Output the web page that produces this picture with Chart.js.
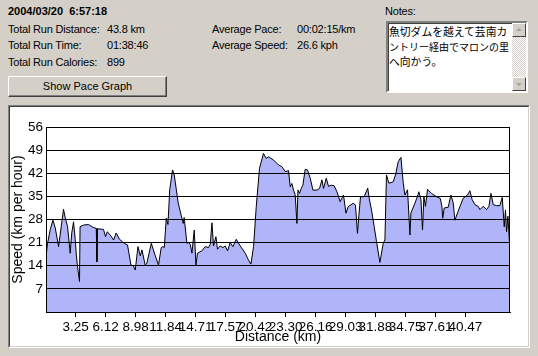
<!DOCTYPE html>
<html><head><meta charset="utf-8">
<script src="https://cdn.jsdelivr.net/npm/chart.js@4.4.1/dist/chart.umd.min.js"></script>
<style>
body{margin:0;width:538px;height:356px;background:#d4d0c8;position:relative;overflow:hidden;font-family:'Liberation Sans',Arial,sans-serif;font-size:11px;color:#000}
.t{position:absolute;line-height:13px;white-space:nowrap;letter-spacing:-0.2px}
.btn{position:absolute;left:8px;top:76px;width:157px;height:19px;border:1px solid;border-color:#fff #404040 #404040 #fff;box-shadow:inset -1px -1px #808080;text-align:center;line-height:19px}
.notes{position:absolute;left:386px;top:21px;width:138px;height:68px;background:#fff;border:2px solid;border-color:#808080 #fff #fff #808080;box-shadow:inset 1px 1px #404040}
.ntext{position:absolute;left:1px;top:1px;font-family:'Noto Sans CJK JP',sans-serif;font-size:10.8px;line-height:14.5px;white-space:nowrap}
.sb{position:absolute;right:0;top:0;width:14px;height:68px;background:repeating-conic-gradient(#d4d0c8 0 25%,#fff 0 50%) 0 0/2px 2px}
.sbb{position:absolute;left:0;width:12px;height:12px;background:#d4d0c8;border:1px solid;border-color:#fff #404040 #404040 #fff}
.tri{position:absolute;left:3px;width:0;height:0;border-left:3px solid transparent;border-right:3px solid transparent}
.panel{position:absolute;left:8px;top:105px;width:520px;height:241px;border:1px solid;border-color:#808080 #fff #fff #808080}
.inner{position:absolute;left:0;top:0;width:518px;height:239px;border:1px solid;border-color:#404040 #d4d0c8 #d4d0c8 #404040;background:#fff}
canvas{position:absolute;left:0;top:0}
</style></head>
<body>
<div class="t" style="left:8px;top:5px;font-weight:bold;letter-spacing:0">2004/03/20&nbsp;&nbsp;6:57:18</div>
<div class="t" style="left:8px;top:23px">Total Run Distance:</div>
<div class="t" style="left:107px;top:23px">43.8 km</div>
<div class="t" style="left:8px;top:39px">Total Run Time:</div>
<div class="t" style="left:107px;top:39px">01:38:46</div>
<div class="t" style="left:8px;top:56px">Total Run Calories:</div>
<div class="t" style="left:107px;top:56px">899</div>
<div class="t" style="left:212px;top:23px">Average Pace:</div>
<div class="t" style="left:297px;top:23px">00:02:15/km</div>
<div class="t" style="left:212px;top:39px">Average Speed:</div>
<div class="t" style="left:297px;top:39px">26.6 kph</div>
<div class="t" style="left:385px;top:5px">Notes:</div>
<div class="btn">Show Pace Graph</div>
<div class="notes">
  <div class="ntext"><span>魚切ダムを越えて芸南カ</span><br><span style="font-size:10px">ントリー経由でマロンの里</span><br><span>へ向かう。</span></div>
  <div class="sb">
    <div class="sbb" style="top:0"><div class="tri" style="top:4px;border-bottom:3px solid #a0a0a0"></div></div>
    <div class="sbb" style="bottom:0"><div class="tri" style="top:5px;border-top:3px solid #a0a0a0"></div></div>
  </div>
</div>
<div class="panel"><div class="inner"><canvas id="c" width="518" height="239"></canvas></div></div>
<script>
const distKm = [0.43,0.58,0.84,1.09,1.31,1.63,1.89,2.10,2.27,2.49,2.74,2.89,3.06,3.22,3.32,3.44,3.63,3.68,3.99,4.49,4.94,5.23,5.29,5.35,5.92,6.11,6.28,6.56,6.88,7.13,7.45,7.71,7.90,8.21,8.54,8.76,8.95,9.21,9.43,9.59,9.90,10.06,10.48,10.81,11.17,11.43,11.59,11.72,11.91,12.07,12.24,12.51,12.67,13.05,13.40,13.53,13.62,13.88,14.01,14.20,14.36,14.58,14.74,14.89,15.31,15.63,15.94,16.11,16.27,16.42,16.65,16.80,17.06,17.32,17.54,17.76,18.01,18.27,18.59,18.97,19.45,19.76,19.99,20.24,20.50,20.81,21.19,21.45,21.67,22.15,22.62,22.95,23.26,23.58,23.74,23.90,24.06,24.22,24.38,24.48,24.63,24.79,24.95,25.17,25.39,25.65,25.91,26.29,26.54,26.77,26.92,27.18,27.40,27.63,27.94,28.20,28.51,28.83,29.06,29.28,29.75,29.97,30.16,30.30,30.45,30.80,31.14,31.28,31.50,31.76,31.98,32.30,32.62,32.78,32.93,33.16,33.57,33.79,34.05,34.31,34.53,34.69,34.94,35.17,35.26,35.64,35.89,36.02,36.22,36.37,36.50,36.65,36.85,37.23,37.70,38.06,38.22,38.30,38.44,38.82,39.08,39.30,39.46,39.71,39.94,40.25,40.66,40.89,41.11,41.37,41.68,41.85,42.16,42.48,42.71,42.90,43.12,43.43,43.76,43.98,44.17,44.29,44.39,44.52,44.72];
const speedKph = [16.7,20.8,25.0,27.8,25.5,19.8,26.0,31.1,28.5,25.8,17.8,24.0,27.3,22.0,17.5,13.7,9.2,25.8,26.3,26.5,25.6,25.3,15.2,25.2,25.0,22.8,24.3,23.3,21.8,23.9,22.0,21.3,20.8,20.3,14.2,14.0,12.7,19.8,17.0,18.8,14.2,14.8,20.8,17.5,14.2,19.5,19.8,19.5,28.4,26.5,37.0,43.0,41.5,33.0,28.4,26.8,28.6,20.8,21.0,20.5,17.8,24.8,14.2,17.8,18.5,19.8,19.5,20.5,27.0,20.0,22.8,19.0,20.0,19.5,20.0,18.5,21.0,19.8,22.0,20.0,17.8,15.7,14.5,19.8,31.9,43.5,48.0,46.5,47.0,46.0,44.5,44.0,42.5,42.8,37.9,38.9,36.9,35.4,26.8,36.9,35.9,37.4,38.4,43.2,43.0,40.5,36.9,36.9,37.4,40.0,37.4,40.5,38.0,38.4,38.2,36.4,33.4,35.4,29.9,31.9,32.9,32.4,23.8,29.4,34.9,34.9,37.5,34.4,30.9,25.8,21.3,15.0,20.8,21.8,41.5,39.0,39.4,41.5,45.5,46.8,39.0,35.4,37.0,23.3,30.0,32.9,35.0,36.4,34.0,24.8,34.9,32.0,37.1,35.9,34.9,34.4,32.0,28.4,31.5,31.7,35.4,33.0,27.8,30.0,31.9,34.4,35.4,36.7,34.0,32.5,32.0,31.0,32.0,31.0,32.0,35.9,32.5,32.2,32.2,34.7,25.8,30.9,24.3,29.0,18.3];
const xTicks = [3.25,6.12,8.98,11.84,14.71,17.57,20.42,23.30,26.16,29.03,31.88,34.75,37.61,40.47];
const yTicks = [0,7,14,21,28,35,42,49,56];
const xRange = [0.43, 44.72];

const frame = {
  id:'frame',
  afterDraw(chart){
    const {ctx, chartArea:a} = chart;
    ctx.save(); ctx.strokeStyle='#000'; ctx.lineWidth=1;
    ctx.beginPath();
    ctx.moveTo(a.right-0.5, a.top+0.5); ctx.lineTo(a.right-0.5, a.bottom+0.5);
    ctx.stroke(); ctx.restore();
  }
};
const font13 = {family:"'Liberation Sans', Arial, sans-serif", size:13.5};
const font14 = {family:"'Liberation Sans', Arial, sans-serif", size:14};
new Chart(document.getElementById('c'), {
  type:'line',
  data:{datasets:[{
    data: distKm.map((d,i)=>({x:d, y:speedKph[i]})),
    borderColor:'#000', borderWidth:1, backgroundColor:'rgb(176,180,248)',
    fill:'origin', pointRadius:0, tension:0
  }]},
  options:{
    responsive:false, animation:false, devicePixelRatio:1,
    layout:{padding:{top:20,right:18,left:0,bottom:0}},
    plugins:{legend:{display:false}, tooltip:{enabled:false}},
    scales:{
      x:{type:'linear', min:xRange[0], max:xRange[1],
        afterBuildTicks:s=>{s.ticks = xTicks.map(v=>({value:v}));},
        afterFit:s=>{s.height=34;},
        grid:{drawOnChartArea:false, drawTicks:true, tickLength:5, color:'#000'},
        border:{display:true, color:'#000'},
        ticks:{autoSkip:false, maxRotation:0, minRotation:0, padding:2, color:'#000', font:font13,
          callback:v=>v.toFixed(2)},
        title:{display:true, text:'Distance (km)', color:'#000', font:font14, padding:0}
      },
      y:{min:0, max:56,
        afterBuildTicks:s=>{s.ticks = yTicks.map(v=>({value:v}));},
        afterFit:s=>{s.width=36;},
        grid:{color:'#000', drawTicks:false, lineWidth:1, z:1},
        border:{display:true, color:'#000', z:1},
        ticks:{padding:3, color:'#000', font:font13, callback:v=> v===0 ? '' : String(v)},
        title:{display:true, text:'Speed (km per hour)', color:'#000', font:font14, padding:0}
      }
    }
  },
  plugins:[frame]
});
</script>
</body></html>
